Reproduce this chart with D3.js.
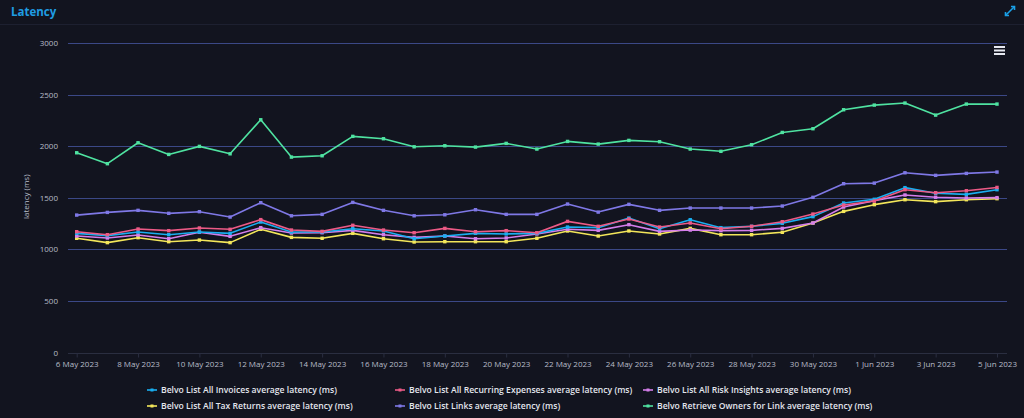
<!DOCTYPE html>
<html>
<head>
<meta charset="utf-8">
<script src="https://cdn.jsdelivr.net/npm/d3@7"></script>
<style>
  body { margin: 0; background: #12141f; }
  svg { display: block; font-family: "Open Sans", sans-serif; }
</style>
</head>
<body>
<svg width="1024" height="418"></svg>
<script>
// one point per day, 6 May 2023 -> 5 Jun 2023
var startDay = new Date(2023, 4, 6);
var days = d3.range(31).map(function(i) { return d3.timeDay.offset(startDay, i); });

var seriesNames = [
  "Belvo List All Invoices average latency (ms)",
  "Belvo List All Recurring Expenses average latency (ms)",
  "Belvo List All Risk Insights average latency (ms)",
  "Belvo List All Tax Returns average latency (ms)",
  "Belvo List Links average latency (ms)",
  "Belvo Retrieve Owners for Link average latency (ms)"
];
var seriesColors = ["#19aef0", "#ec5a86", "#d47eea", "#f3e65a", "#7f78e6", "#4fe3a1"];

var invoices = [1155, 1133, 1168, 1142, 1168, 1155, 1265, 1168, 1168, 1200, 1178, 1103, 1129, 1155, 1149, 1155,
  1216, 1210, 1303, 1200, 1287, 1210, 1223, 1252, 1317, 1449, 1485, 1598, 1543, 1533, 1578];
var recurring = [1171, 1142, 1197, 1181, 1207, 1194, 1288, 1187, 1174, 1233, 1187, 1161, 1203, 1171, 1181, 1161,
  1271, 1223, 1294, 1216, 1255, 1200, 1223, 1268, 1342, 1429, 1468, 1578, 1549, 1568, 1600];
var riskInsights = [1129, 1110, 1139, 1103, 1165, 1126, 1210, 1158, 1161, 1184, 1142, 1116, 1129, 1103, 1110, 1149,
  1194, 1184, 1239, 1174, 1187, 1181, 1184, 1203, 1255, 1410, 1472, 1527, 1505, 1498, 1501];
var taxReturns = [1107, 1065, 1113, 1074, 1090, 1065, 1194, 1116, 1107, 1155, 1103, 1071, 1074, 1074, 1074, 1107,
  1178, 1129, 1178, 1149, 1203, 1142, 1142, 1165, 1255, 1368, 1433, 1481, 1462, 1481, 1491];
var links = [1332, 1358, 1378, 1349, 1365, 1313, 1452, 1325, 1339, 1455, 1378, 1325, 1335, 1384, 1339, 1339,
  1439, 1361, 1436, 1378, 1400, 1400, 1400, 1420, 1504, 1636, 1642, 1742, 1717, 1736, 1749];
var owners = [1936, 1830, 2033, 1920, 1998, 1926, 2256, 1894, 1907, 2095, 2072, 1994, 2004, 1991, 2027, 1972,
  2046, 2020, 2056, 2043, 1972, 1950, 2014, 2133, 2169, 2353, 2398, 2418, 2301, 2408, 2408];

var seriesValues = [invoices, recurring, riskInsights, taxReturns, links, owners];
var yTicks = [0, 500, 1000, 1500, 2000, 2500, 3000];
var xTickDays = d3.range(0, 31, 2).map(function(i) { return days[i]; });

var svg = d3.select("svg");

// header
svg.append("text")
  .attr("x", 11).attr("y", 16)
  .attr("fill", "#1f9de3")
  .attr("font-size", 11.5).attr("font-weight", 700)
  .text("Latency");
svg.append("line")
  .attr("x1", 0).attr("x2", 1024).attr("y1", 24.5).attr("y2", 24.5)
  .attr("stroke", "#1d2030");

// expand icon top right
var ic = svg.append("g").attr("transform", "translate(1010,11)").attr("stroke", "#1aa0e8").attr("stroke-width", 1.6);
ic.append("line").attr("x1", -4).attr("y1", 4).attr("x2", 4).attr("y2", -4);
ic.append("path").attr("d", "M1,-4.5 L4.5,-4.5 L4.5,-1").attr("fill", "none");
ic.append("path").attr("d", "M-4.5,1 L-4.5,4.5 L-1,4.5").attr("fill", "none");

// scales
var x = d3.scaleTime()
  .domain([days[0], days[30]])
  .range([76.7, 997]);
var y = d3.scaleLinear()
  .domain([0, 3000])
  .range([352.5, 43]);

var plotLeft = 68, plotRight = 1007;

// grid
svg.append("g")
  .selectAll("line")
  .data(yTicks.filter(function(d) { return d > 0; }))
  .enter().append("line")
  .attr("x1", plotLeft).attr("x2", plotRight)
  .attr("y1", function(d) { return Math.round(y(d)) + 0.5; })
  .attr("y2", function(d) { return Math.round(y(d)) + 0.5; })
  .attr("stroke", "#3b4886").attr("stroke-width", 1);

// y labels
svg.append("g")
  .selectAll("text")
  .data(yTicks)
  .enter().append("text")
  .attr("x", 58)
  .attr("y", function(d) { return y(d) + 3; })
  .attr("text-anchor", "end")
  .attr("font-size", 8)
  .attr("fill", "#b8bcc8")
  .text(function(d) { return d; });

svg.append("text")
  .attr("transform", "translate(29," + (y(1500) - 1) + ") rotate(-90)")
  .attr("text-anchor", "middle")
  .attr("font-size", 8)
  .attr("fill", "#b8bcc8")
  .text("latency (ms)");

// x axis
var xAxis = d3.axisBottom(x)
  .tickValues(xTickDays)
  .tickSize(4)
  .tickFormat(d3.timeFormat("%-d %b %Y"));

var gx = svg.append("g")
  .attr("transform", "translate(0," + (Math.round(y(0)) + 0.5) + ")")
  .call(xAxis);
gx.select(".domain").remove();
gx.insert("line", ":first-child")
  .attr("x1", plotLeft).attr("x2", plotRight)
  .attr("stroke", "#2a2e40");
gx.selectAll(".tick line").attr("stroke", "#2a2e40");
gx.selectAll(".tick text")
  .attr("fill", "#b8bcc8")
  .attr("font-size", 8)
  .attr("font-family", "Open Sans, sans-serif")
  .attr("dy", "0.8em");

// lines
var line = d3.line()
  .x(function(d, i) { return x(days[i]); })
  .y(function(d) { return y(d); });

var order = [4, 5, 3, 2, 0, 1];
order.forEach(function(s) {
  var g = svg.append("g");
  g.append("path")
    .datum(seriesValues[s])
    .attr("d", line)
    .attr("fill", "none")
    .attr("stroke", seriesColors[s])
    .attr("stroke-width", 1.6)
    .attr("stroke-linejoin", "round");
  g.selectAll("rect")
    .data(seriesValues[s])
    .enter().append("rect")
    .attr("x", function(d, i) { return x(days[i]) - 1.7; })
    .attr("y", function(d) { return y(d) - 1.7; })
    .attr("width", 3.4).attr("height", 3.4)
    .attr("fill", seriesColors[s]);
});

// hamburger menu
var menu = svg.append("g").attr("transform", "translate(994,46)");
[0, 3.5, 7].forEach(function(o) {
  menu.append("rect").attr("x", 0).attr("y", o).attr("width", 11).attr("height", 2)
    .attr("fill", "#e6e8f0");
});

// legend
var legendX = [147, 395, 643];
var legendY = [390, 406];
var legend = svg.append("g")
  .selectAll("g")
  .data(seriesNames)
  .enter().append("g")
  .attr("transform", function(d, i) {
    return "translate(" + legendX[i % 3] + "," + legendY[Math.floor(i / 3)] + ")";
  });
legend.append("line")
  .attr("x1", 0).attr("x2", 10)
  .attr("stroke", function(d, i) { return seriesColors[i]; })
  .attr("stroke-width", 1.6);
legend.append("rect")
  .attr("x", 3.5).attr("y", -1.5).attr("width", 3).attr("height", 3)
  .attr("fill", function(d, i) { return seriesColors[i]; });
legend.append("text")
  .attr("x", 14).attr("y", 3)
  .attr("font-size", 8.6)
  .attr("font-weight", 600)
  .attr("fill", "#e4e6ee")
  .text(function(d) { return d; });
</script>
</body>
</html>
